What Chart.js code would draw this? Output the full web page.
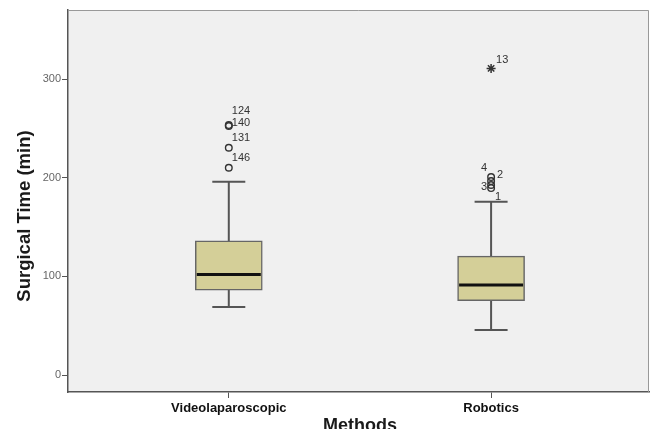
<!DOCTYPE html>
<html>
<head>
<meta charset="utf-8">
<script src="https://cdn.jsdelivr.net/npm/chart.js@4"></script>
<style>body{margin:0;background:#fff}</style>
</head>
<body>
<canvas id="myChart" width="650" height="429"></canvas>
<script>
// box plot summaries per method (minutes)
const methods = ['Videolaparoscopic', 'Robotics'];
const lowerWhisker = [69, 45.6];
const q1 = [86, 75.3];
const median = [102, 91.2];
const q3 = [136, 120.6];
const upperWhisker = [196, 175.6];

// outliers (circles) and extremes (stars), with case numbers
const outlierMethod = [1, 1, 1, 1, 2, 2, 2, 2];
const outlierTime = [253.4, 252.4, 230.4, 210.1, 200.7, 196.6, 192.6, 189.5];
const outlierCase = ['124', '140', '131', '146', '4', '2', '3', '1'];
const extremeMethod = [2];
const extremeTime = [310.8];
const extremeCase = ['13'];

const yTicks = [0, 100, 200, 300];

// where each case label sits next to its marker: dx, dy, align
const labelPlace = {
    '124': [3, -14, 'left'], '140': [3, -3, 'left'], '131': [3, -10, 'left'], '146': [3, -10, 'left'],
    '4': [-4, -9, 'right'], '2': [6, -6, 'left'], '3': [-4, 2, 'right'], '1': [4, 9, 'left'],
    '13': [5, -8, 'left']
};

Chart.defaults.font.family = 'Arial, "Liberation Sans", sans-serif';

const whiskerData = [];
methods.forEach((m, i) => {
    whiskerData.push({x: i + 1, y: lowerWhisker[i]}, {x: i + 1, y: upperWhisker[i]}, {x: i + 1, y: null});
});
const capData = [];
methods.forEach((m, i) => {
    capData.push({x: i + 1, y: lowerWhisker[i]}, {x: i + 1, y: upperWhisker[i]});
});

const plotFrame = {
    id: 'plotFrame',
    beforeDraw(chart) {
        const {ctx, chartArea: a} = chart;
        ctx.save();
        ctx.fillStyle = '#f0f0f0';
        ctx.fillRect(a.left, a.top, a.right - a.left, a.bottom - a.top);
        ctx.restore();
    },
    afterDatasetsDraw(chart) {
        const {ctx, scales} = chart;
        ctx.save();
        ctx.font = '11px Arial, "Liberation Sans", sans-serif';
        ctx.fillStyle = '#333';
        ctx.textBaseline = 'middle';
        const put = (xv, yv, id) => {
            const p = labelPlace[id] || [3, -10, 'left'];
            ctx.textAlign = p[2];
            ctx.fillText(id, scales.x.getPixelForValue(xv) + p[0], scales.y.getPixelForValue(yv) + p[1]);
        };
        outlierCase.forEach((id, i) => put(outlierMethod[i], outlierTime[i], id));
        extremeCase.forEach((id, i) => put(extremeMethod[i], extremeTime[i], id));
        ctx.restore();
    },
    afterDraw(chart) {
        const {ctx, chartArea: a} = chart;
        ctx.save();
        ctx.strokeStyle = '#999';
        ctx.lineWidth = 1;
        ctx.beginPath();
        ctx.moveTo(a.left, a.top + 0.5);
        ctx.lineTo(a.right - 0.5, a.top + 0.5);
        ctx.lineTo(a.right - 0.5, a.bottom);
        ctx.stroke();
        // axis titles
        ctx.fillStyle = '#1a1a1a';
        ctx.font = 'bold 18px Arial, "Liberation Sans", sans-serif';
        ctx.textAlign = 'center';
        ctx.textBaseline = 'alphabetic';
        ctx.fillText('Methods', 360, 431);
        ctx.font = 'bold 18.5px Arial, "Liberation Sans", sans-serif';
        ctx.translate(25, 216);
        ctx.rotate(-Math.PI / 2);
        ctx.textBaseline = 'middle';
        ctx.fillText('Surgical Time (min)', 0, 0);
        ctx.restore();
    }
};

const ctx = document.getElementById('myChart').getContext('2d');
const myChart = new Chart(ctx, {
    type: 'bar',
    data: {
        datasets: [{
            type: 'line',
            data: whiskerData,
            borderColor: '#555',
            borderWidth: 2,
            pointRadius: 0,
            spanGaps: false,
            order: 4
        }, {
            type: 'bar',
            data: methods.map((m, i) => ({x: i + 1, y: [q1[i], q3[i]]})),
            backgroundColor: '#d4cf98',
            borderColor: '#666',
            borderWidth: 1.5,
            borderSkipped: false,
            barThickness: 67,
            order: 3
        }, {
            type: 'scatter',
            data: capData,
            pointStyle: 'line',
            pointRadius: 16.5,
            borderColor: '#555',
            borderWidth: 2,
            order: 2
        }, {
            type: 'scatter',
            data: methods.map((m, i) => ({x: i + 1, y: median[i]})),
            pointStyle: 'line',
            pointRadius: 32,
            borderColor: '#111',
            borderWidth: 3,
            order: 1
        }, {
            type: 'scatter',
            data: outlierTime.map((v, i) => ({x: outlierMethod[i], y: v})),
            pointStyle: 'circle',
            pointRadius: 3.3,
            borderColor: '#333',
            borderWidth: 1.4,
            backgroundColor: 'rgba(0,0,0,0)',
            order: 0
        }, {
            type: 'scatter',
            data: extremeTime.map((v, i) => ({x: extremeMethod[i], y: v})),
            pointStyle: 'star',
            pointRadius: 4.5,
            borderColor: '#333',
            borderWidth: 1.5,
            order: 0
        }]
    },
    options: {
        responsive: false,
        animation: false,
        events: [],
        layout: {autoPadding: false, padding: {top: 10, right: 1, left: 0, bottom: 0}},
        plugins: {legend: {display: false}, tooltip: {enabled: false}},
        scales: {
            x: {
                type: 'linear',
                offset: false,
                min: 0.387,
                max: 2.602,
                afterBuildTicks: s => { s.ticks = methods.map((m, i) => ({value: i + 1})); },
                afterFit: s => { s.height = 37; },
                ticks: {
                    callback: v => methods[v - 1],
                    font: {size: 13, weight: 'bold'},
                    color: '#111',
                    padding: 3,
                    maxRotation: 0
                },
                grid: {offset: false, drawOnChartArea: false, tickLength: 6, tickColor: '#555'},
                border: {color: '#555', width: 1.5}
            },
            y: {
                type: 'linear',
                min: -17.2,
                max: 370,
                afterBuildTicks: s => { s.ticks = yTicks.map(v => ({value: v})); },
                afterFit: s => { s.width = 68; },
                ticks: {font: {size: 11}, color: '#666', padding: 1},
                grid: {drawOnChartArea: false, tickLength: 6, tickColor: '#555'},
                border: {color: '#555', width: 1.5}
            }
        }
    },
    plugins: [plotFrame]
});
</script>
</body>
</html>
